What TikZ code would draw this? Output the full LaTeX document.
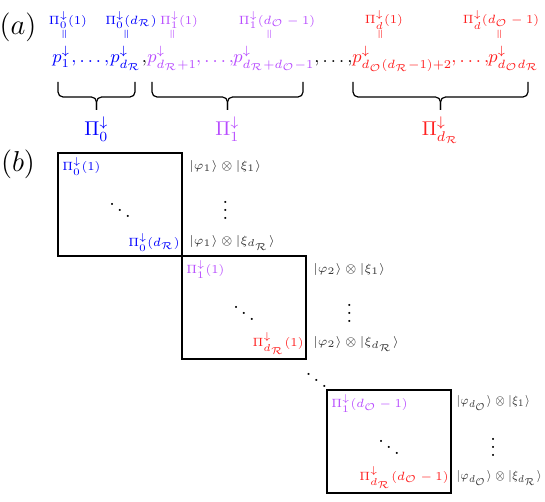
\documentclass[tikz,border=0pt]{standalone}
\usepackage{amsmath,amssymb}
\usetikzlibrary{positioning,calc}
\definecolor{pblue}{rgb}{0,0,1}
\definecolor{pviolet}{rgb}{0.72,0.3,1}
\definecolor{pred}{rgb}{1,0.12,0.12}
\newcommand{\dRc}{d_{\mathcal{R}}}
\newcommand{\dOc}{d_{\mathcal{O}}}

\begin{document}
\begin{tikzpicture}[
        x=0.5pt, y=-0.5pt,
        every node/.style={inner sep=0pt},
        toplbl/.style={font=\fontsize{6}{7}\selectfont},
        eqbar/.style={font=\tiny, rotate=90},
        pnode/.style={anchor=base west, font=\fontsize{9}{11}\selectfont},
        sepnode/.style={anchor=base, font=\fontsize{9}{11}\selectfont},
        brace/.style={line width=0.6pt, rounded corners=2.5pt},
        bigpi/.style={font=\normalsize},
        blockbox/.style={draw, line width=0.7pt, outer sep=0pt, minimum width=62pt, minimum height=51.5pt},
        boxlbl/.style={font=\fontsize{6}{7}\selectfont},
        ket/.style={font=\fontsize{6}{7}\selectfont, anchor=west, black!80}
    ]
        \useasboundingbox (0,0) rectangle (545,502);

        % (a): the ordered list of projectors
        \node[font=\Large] (lbla) at (18,27) {$(a)$};

        \node[pnode, pblue] (p1) at (52,63) {$p_1^\downarrow$};
        \node[pnode, pblue] (p2) at (110,63) {$p_{\dRc}^\downarrow$};
        \node[pnode, pviolet] (p3) at (147,63) {$p_{\dRc+1}^\downarrow$};
        \node[pnode, pviolet] (p4) at (233,63) {$p_{\dRc+\dOc-1}^\downarrow$};
        \node[pnode, pred] (p5) at (352,63) {$p_{\dOc(\dRc-1)+2}^\downarrow$};
        \node[pnode, pred] (p6) at (488,63) {$p_{\dOc\dRc}^\downarrow$};

        \node[sepnode, pblue] (s1) at ($(p1.base east)!0.5!(p2.base west)$) {$,\ldots,$};
        \node[sepnode] (s2) at ($(p2.base east)!0.5!(p3.base west)$) {$,$};
        \node[sepnode, pviolet] (s3) at ($(p3.base east)!0.5!(p4.base west)$) {$,\ldots,$};
        \node[sepnode] (s4) at ($(p4.base east)!0.5!(p5.base west)$) {$,\ldots,$};
        \node[sepnode, pred] (s5) at ($(p5.base east)!0.5!(p6.base west)$) {$,\ldots,$};

        % labels above the list
        \node[toplbl, pblue] (t1) at (68,20) {$\Pi_0^\downarrow(1)$};
        \node[toplbl, pblue] (t2) at (131,20) {$\Pi_0^\downarrow(\dRc)$};
        \node[toplbl, pviolet] (t3) at (179,20) {$\Pi_1^\downarrow(1)$};
        \node[toplbl, pviolet] (t4) at (277,20) {$\Pi_1^\downarrow(\dOc-1)$};
        \node[toplbl, pred] (t5) at (384,20) {$\Pi_d^\downarrow(1)$};
        \node[toplbl, pred] (t6) at (501,20) {$\Pi_d^\downarrow(\dOc-1)$};

        \node[eqbar, pblue] (e1) at (65,34) {$=$};
        \node[eqbar, pblue] (e2) at (127,34) {$=$};
        \node[eqbar, pviolet] (e3) at (173,34) {$=$};
        \node[eqbar, pviolet] (e4) at (270,34) {$=$};
        \node[eqbar, pred] (e5) at (381,34) {$=$};
        \node[eqbar, pred] (e6) at (500,34) {$=$};

        % braces under the list
        \coordinate (b0l) at (58,82);
        \coordinate (b0r) at (135,82);
        \coordinate (b0m) at ($(b0l)!0.5!(b0r)+(0,15)$);
        \coordinate (tip0) at ($(b0m)+(0,13)$);
        \draw[brace] (b0l) |- (b0m) -- (tip0);
        \draw[brace] (b0r) |- (b0m) -- (tip0);

        \coordinate (b1l) at (152,82);
        \coordinate (b1r) at (303,82);
        \coordinate (b1m) at ($(b1l)!0.5!(b1r)+(0,15)$);
        \coordinate (tip1) at ($(b1m)+(0,13)$);
        \draw[brace] (b1l) |- (b1m) -- (tip1);
        \draw[brace] (b1r) |- (b1m) -- (tip1);

        \coordinate (b2l) at (353,82);
        \coordinate (b2r) at (528,82);
        \coordinate (b2m) at ($(b2l)!0.5!(b2r)+(0,15)$);
        \coordinate (tip2) at ($(b2m)+(0,13)$);
        \draw[brace] (b2l) |- (b2m) -- (tip2);
        \draw[brace] (b2r) |- (b2m) -- (tip2);

        \node[bigpi, pblue, below=3pt of tip0] (pi0) {$\Pi_0^\downarrow$};
        \node[bigpi, pviolet, below=3pt of tip1] (pi1) {$\Pi_1^\downarrow$};
        \node[bigpi, pred, below=3pt of tip2] (pi2) {$\Pi_{\dRc}^\downarrow$};

        % (b): block-diagonal structure
        \node[font=\Large] (lblb) at (18,164) {$(b)$};

        \node[blockbox, anchor=north west] (box1) at (58,153) {};
        \node[blockbox, anchor=north west] (box2) at (box1.south east) {};
        \node[blockbox, below right=15.5pt and 10.5pt of box2.south east] (box3) {};

        % block 1
        \node[boxlbl, pblue, anchor=north west] (l1a) at ([shift={(2pt,-2pt)}]box1.north west) {$\Pi_0^\downarrow(1)$};
        \node[boxlbl, pblue, anchor=south east] (l1b) at ([shift={(-1pt,2pt)}]box1.south east) {$\Pi_0^\downarrow(\dRc)$};
        \node (dd1) at (box1) {$\ddots$};
        \node[ket] (k1a) at ([xshift=3.5pt]box1.east |- l1a) {$|\varphi_1\rangle\otimes|\xi_1\rangle$};
        \node[ket] (k1b) at ([xshift=3.5pt]box1.east |- l1b) {$|\varphi_1\rangle\otimes|\xi_{\dRc}\rangle$};
        \node (vd1) at (k1a |- dd1) {$\vdots$};

        % block 2
        \node[boxlbl, pviolet, anchor=north west] (l2a) at ([shift={(2pt,-2pt)}]box2.north west) {$\Pi_1^\downarrow(1)$};
        \node[boxlbl, pred, anchor=south east] (l2b) at ([shift={(-1pt,2pt)}]box2.south east) {$\Pi_{\dRc}^\downarrow(1)$};
        \node (dd2) at (box2) {$\ddots$};
        \node[ket] (k2a) at ([xshift=3.5pt]box2.east |- l2a) {$|\varphi_2\rangle\otimes|\xi_1\rangle$};
        \node[ket] (k2b) at ([xshift=3.5pt]box2.east |- l2b) {$|\varphi_2\rangle\otimes|\xi_{\dRc}\rangle$};
        \node (vd2) at (k2a |- dd2) {$\vdots$};

        \node (dd23) at ($(box2.south east)!0.5!(box3.north west)$) {$\ddots$};

        % block 3
        \node[boxlbl, pviolet, anchor=north west] (l3a) at ([shift={(2pt,-2pt)}]box3.north west) {$\Pi_1^\downarrow(\dOc-1)$};
        \node[boxlbl, pred, anchor=south east] (l3b) at ([shift={(-1pt,2pt)}]box3.south east) {$\Pi_{\dRc}^\downarrow(\dOc-1)$};
        \node (dd3) at (box3) {$\ddots$};
        \node[ket, xscale=0.87] (k3a) at ([xshift=2.5pt]box3.east |- l3a) {$|\varphi_{\dOc}\rangle\otimes|\xi_1\rangle$};
        \node[ket, xscale=0.87] (k3b) at ([xshift=2.5pt]box3.east |- l3b) {$|\varphi_{\dOc}\rangle\otimes|\xi_{\dRc}\rangle$};
        \node (vd3) at (k3a |- dd3) {$\vdots$};

    \end{tikzpicture}
\end{document}
